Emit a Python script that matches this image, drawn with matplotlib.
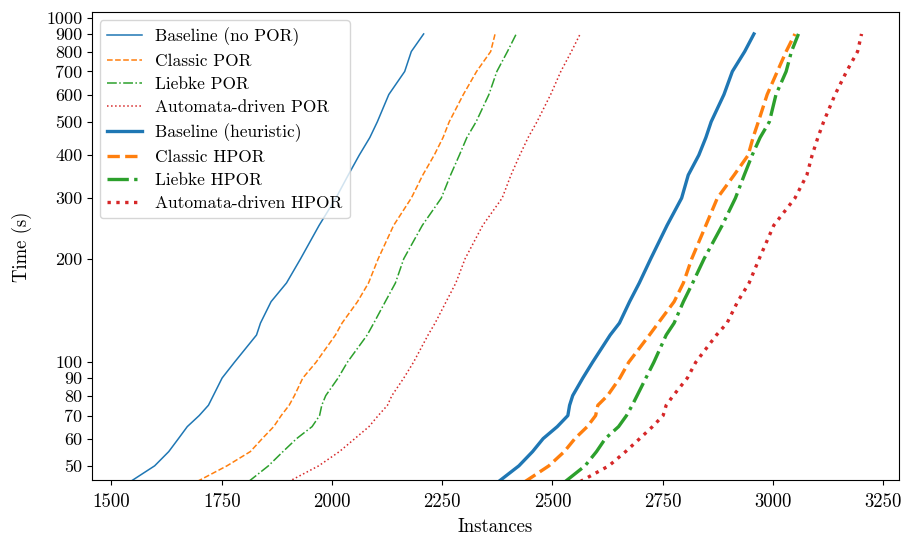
import matplotlib.pyplot as plt
from matplotlib.ticker import FixedLocator, NullLocator

plt.rcParams['font.family'] = ['cmr10', 'DejaVu Serif']
plt.rcParams['mathtext.fontset'] = 'cm'
plt.rcParams['axes.formatter.use_mathtext'] = True
plt.rcParams['font.size'] = 13.5

times = [45, 50, 55, 60, 65, 70, 75, 80, 90, 100, 120, 130, 150, 170, 200,
         250, 300, 350, 400, 450, 500, 600, 700, 800, 900]

# solved instances for each configuration
baseline_nopor = [1543, 1598, 1630, 1652, 1672, 1699, 1720, 1731, 1751, 1779, 1829, 1838, 1862,
                  1897, 1929, 1971, 2009, 2037, 2062, 2086, 2103, 2129, 2165, 2180, 2208]
classic_por = [1694, 1762, 1815, 1842, 1868, 1885, 1903, 1915, 1934, 1964, 2008, 2023, 2058,
               2083, 2105, 2140, 2180, 2206, 2232, 2252, 2266, 2298, 2328, 2360, 2370]
liebke_por = [1811, 1856, 1889, 1920, 1955, 1972, 1977, 1986, 2014, 2035, 2080, 2095, 2121,
              2144, 2163, 2205, 2248, 2269, 2289, 2306, 2327, 2356, 2374, 2398, 2418]
automata_por = [1902, 1970, 2017, 2052, 2084, 2105, 2126, 2136, 2163, 2185, 2218, 2234, 2259,
                2281, 2302, 2342, 2386, 2406, 2426, 2445, 2465, 2496, 2519, 2543, 2563]
baseline_heur = [2378, 2424, 2455, 2479, 2511, 2535, 2539, 2546, 2569, 2591, 2631, 2652, 2675,
                 2697, 2723, 2760, 2793, 2808, 2832, 2848, 2860, 2889, 2908, 2936, 2957]
classic_hpor = [2438, 2492, 2527, 2551, 2579, 2598, 2603, 2625, 2653, 2673, 2720, 2740, 2776,
                2797, 2816, 2848, 2874, 2912, 2944, 2955, 2967, 2987, 3010, 3030, 3050]
liebke_hpor = [2529, 2574, 2600, 2620, 2650, 2668, 2681, 2692, 2712, 2730, 2758, 2776, 2797,
               2818, 2844, 2885, 2915, 2935, 2953, 2971, 2992, 3007, 3030, 3042, 3058]
automata_hpor = [2563, 2628, 2666, 2698, 2727, 2751, 2758, 2774, 2806, 2825, 2872, 2896, 2920,
                 2946, 2969, 3002, 3050, 3077, 3089, 3102, 3115, 3141, 3167, 3192, 3201]

yticks = [50, 60, 70, 80, 90, 100, 200, 300, 400, 500, 600, 700, 800, 900, 1000]
xticks = [1500, 1750, 2000, 2250, 2500, 2750, 3000, 3250]

fig = plt.figure(figsize=(9.04, 5.36), dpi=100)
ax = fig.add_axes([0.1018, 0.104, 0.8927, 0.873])

thin = 1.1
thick = 2.4
ax.plot(baseline_nopor, times, color='C0', ls='-', lw=thin, label='Baseline (no POR)')
ax.plot(classic_por, times, color='C1', ls='--', lw=thin, label='Classic POR')
ax.plot(liebke_por, times, color='C2', ls='-.', lw=thin, label='Liebke POR')
ax.plot(automata_por, times, color='C3', ls=':', lw=thin, label='Automata-driven POR')
ax.plot(baseline_heur, times, color='C0', ls='-', lw=thick, label='Baseline (heuristic)')
ax.plot(classic_hpor, times, color='C1', ls='--', lw=thick, label='Classic HPOR')
ax.plot(liebke_hpor, times, color='C2', ls='-.', lw=thick, label='Liebke HPOR')
ax.plot(automata_hpor, times, color='C3', ls=':', lw=thick, label='Automata-driven HPOR')

ax.set_yscale('log')
ax.set_xlim(1456, 3286)
ax.set_ylim(45.4, 1040)
ax.yaxis.set_major_locator(FixedLocator(yticks))
ax.yaxis.set_minor_locator(NullLocator())
ax.set_yticklabels([str(t) for t in yticks], fontsize=13)
ax.set_xticks(xticks)
ax.set_xticklabels([str(t) for t in xticks])
ax.tick_params(axis='x', pad=6)

ax.set_xlabel('Instances', labelpad=5)
ax.set_ylabel('Time (s)', labelpad=10)
ax.legend(loc='upper left', fontsize=12.5, labelspacing=0.45, borderaxespad=0.45)

fig.savefig('out.png', dpi=100)
